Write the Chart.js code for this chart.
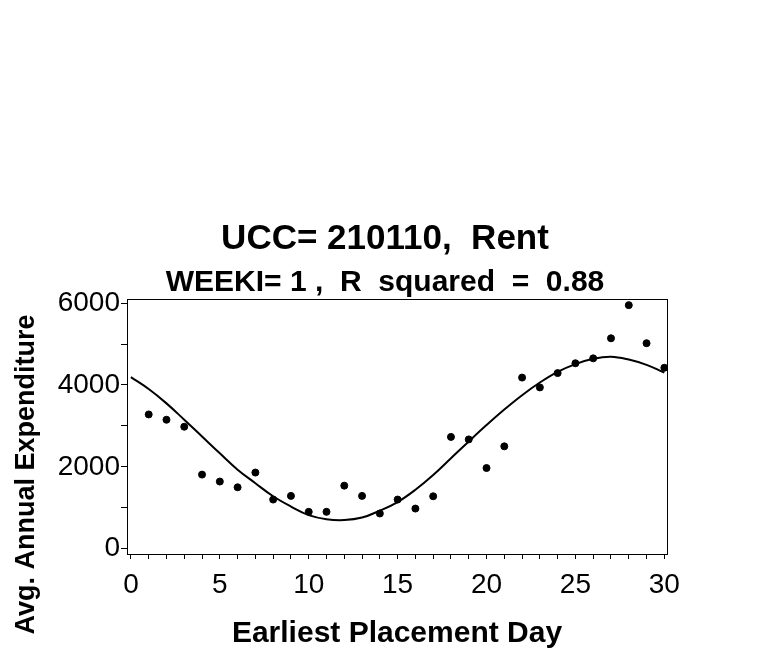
<!DOCTYPE html>
<html>
<head>
<meta charset="utf-8">
<script src="https://cdn.jsdelivr.net/npm/chart.js@4.4.1/dist/chart.umd.min.js"></script>
<style>
  html, body { margin: 0; padding: 0; background: #ffffff; }
  #wrap { width: 770px; height: 650px; }
</style>
</head>
<body>
<div id="wrap"><canvas id="mainChart" width="770" height="650"></canvas></div>
<script>
// data
const days = [0, 1, 2, 3, 4, 5, 6, 7, 8, 9, 10, 11, 12, 13, 14, 15, 16, 17, 18, 19, 20, 21, 22, 23, 24, 25, 26, 27, 28, 29, 30];
const fitted = [4190, 3900, 3550, 3150, 2740, 2330, 1930, 1600, 1280, 1030, 820, 720, 700, 760, 930, 1140, 1440, 1800, 2210, 2620, 3020, 3400, 3750, 4060, 4320, 4510, 4640, 4690, 4620, 4490, 4300];
const obsDays = [1, 2, 3, 4, 5, 6, 7, 8, 9, 10, 11, 12, 13, 14, 15, 16, 17, 18, 19, 20, 21, 22, 23, 24, 25, 26, 27, 28, 29, 30];
const observed = [3280, 3150, 2980, 1810, 1640, 1500, 1860, 1200, 1290, 900, 900, 1540, 1290, 860, 1200, 980, 1280, 2730, 2670, 1970, 2500, 4180, 3940, 4290, 4530, 4650, 5140, 5950, 5020, 4420];
const xTicks = [0, 1, 2, 3, 4, 5, 6, 7, 8, 9, 10, 11, 12, 13, 14, 15, 16, 17, 18, 19, 20, 21, 22, 23, 24, 25, 26, 27, 28, 29, 30];
const yTicks = [0, 1000, 2000, 3000, 4000, 5000, 6000];
const xLabels = [0, 5, 10, 15, 20, 25, 30];
const yLabels = [0, 2000, 4000, 6000];

const FONT = "'Liberation Sans', Arial, sans-serif";
const yTitle = "Avg. Annual Expenditure";

// box round the plot area
const frame = {
  id: "frame",
  afterDatasetsDraw(chart) {
    const { ctx, chartArea } = chart;
    ctx.save();
    ctx.strokeStyle = "#000";
    ctx.lineWidth = 1;
    ctx.strokeRect(chartArea.left + 0.5, chartArea.top + 0.5, chartArea.right - chartArea.left, chartArea.bottom - chartArea.top);
    ctx.restore();
  },
};

// y title sits lower than the plot centre in the original, so draw it here
const yAxisTitle = {
  id: "yAxisTitle",
  afterDraw(chart) {
    const { ctx, chartArea } = chart;
    ctx.save();
    ctx.translate(27, (chartArea.top + chart.height) / 2);
    ctx.rotate(-Math.PI / 2);
    ctx.font = "bold 27px " + FONT;
    ctx.fillStyle = "#000";
    ctx.textAlign = "center";
    ctx.textBaseline = "middle";
    ctx.fillText(yTitle, 0, 0);
    ctx.restore();
  },
};

const chart = new Chart(document.getElementById("mainChart"), {
  type: "scatter",
  data: {
    datasets: [
      {
        label: "fit",
        data: days.map((d, i) => ({ x: d, y: fitted[i] })),
        showLine: true,
        borderColor: "#000",
        borderWidth: 2,
        pointRadius: 0,
        tension: 0.4,
      },
      {
        label: "avg",
        data: obsDays.map((d, i) => ({ x: d, y: observed[i] })),
        backgroundColor: "#000",
        borderColor: "#000",
        pointRadius: 3.5,
      },
    ],
  },
  options: {
    responsive: false,
    animation: false,
    layout: { padding: 0 },
    plugins: {
      legend: { display: false },
      tooltip: { enabled: false },
      title: {
        display: true,
        text: "UCC= 210110,  Rent",
        color: "#000",
        font: { family: FONT, size: 35, weight: "bold" },
        padding: { top: 218, bottom: 0 },
      },
      subtitle: {
        display: true,
        text: "WEEKI= 1 ,  R  squared  =  0.88",
        color: "#000",
        font: { family: FONT, size: 30, weight: "bold", lineHeight: 1.1 },
        padding: { top: 6, bottom: 0 },
      },
    },
    scales: {
      x: {
        type: "linear",
        min: -0.22,
        max: 30.15,
        afterBuildTicks: (s) => { s.ticks = xTicks.map((v) => ({ value: v })); },
        afterFit: (s) => { s.height = 96; },
        ticks: {
          color: "#000",
          font: { family: FONT, size: 28 },
          padding: 9,
          maxRotation: 0,
          autoSkip: false,
          callback: (v) => (xLabels.includes(v) ? String(v) : ""),
        },
        grid: { drawOnChartArea: false, color: "#000", tickLength: 5 },
        border: { color: "#000" },
        title: {
          display: true,
          text: "Earliest Placement Day",
          color: "#000",
          font: { family: FONT, size: 30, weight: "bold", lineHeight: 1.1 },
          padding: { top: 0, bottom: 0 },
        },
      },
      y: {
        min: -130,
        max: 6100,
        afterBuildTicks: (s) => { s.ticks = yTicks.map((v) => ({ value: v })); },
        afterFit: (s) => { s.width = 127; },
        ticks: {
          color: "#000",
          font: { family: FONT, size: 28 },
          padding: 1,
          autoSkip: false,
          callback: (v) => (yLabels.includes(v) ? String(v) : ""),
        },
        grid: { drawOnChartArea: false, color: "#000", tickLength: 6 },
        border: { color: "#000" },
      },
      // empty right-hand axis, only holds the white margin so the titles centre on the page
      yRight: {
        position: "right",
        afterFit: (s) => { s.width = 103; },
        ticks: { display: false },
        grid: { display: false },
        border: { display: false },
      },
    },
  },
  plugins: [frame, yAxisTitle],
});
</script>
</body>
</html>
